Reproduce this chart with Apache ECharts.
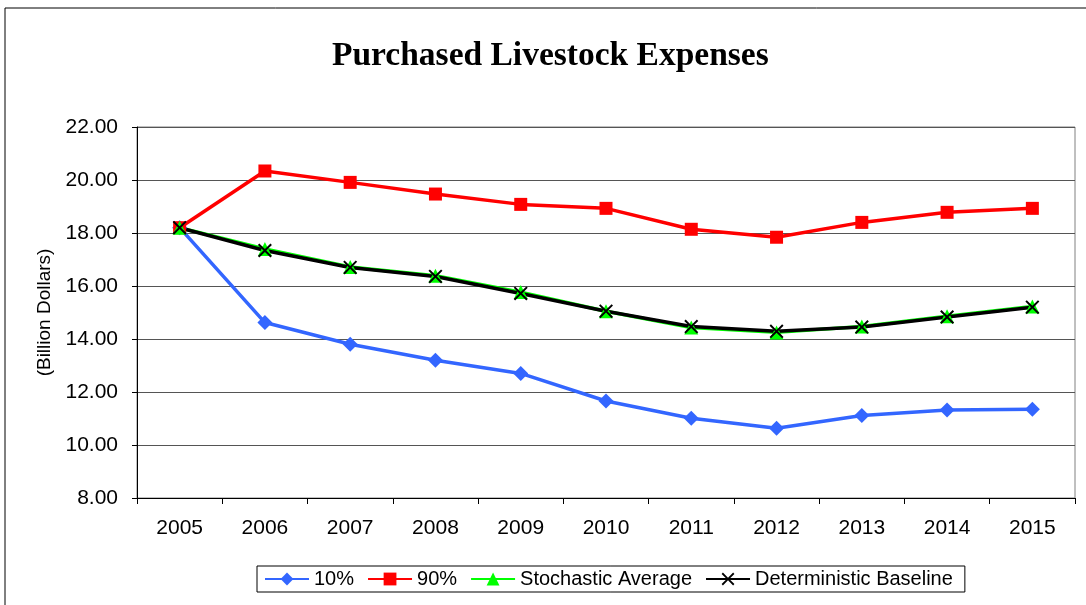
<!DOCTYPE html>
<html>
<head>
<meta charset="utf-8">
<script src="https://cdn.jsdelivr.net/npm/echarts@6/dist/echarts.min.js"></script>
<style>
  html, body { margin: 0; padding: 0; background: #fff; }
  #chart { width: 1086px; height: 605px; }
</style>
</head>
<body>
<div id="chart"></div>
<script>
// years on the x axis
const years = ['2005', '2006', '2007', '2008', '2009', '2010', '2011', '2012', '2013', '2014', '2015'];

// values (billion dollars)
const p10 = [18.20, 14.62, 13.80, 13.20, 12.70, 11.66, 11.01, 10.63, 11.11, 11.32, 11.35];
const p90 = [18.20, 20.34, 19.91, 19.47, 19.08, 18.93, 18.14, 17.84, 18.40, 18.78, 18.93];
const stochAvg = [18.20, 17.40, 16.72, 16.39, 15.77, 15.05, 14.43, 14.25, 14.47, 14.86, 15.23];
const detBase = [18.20, 17.34, 16.70, 16.36, 15.72, 15.05, 14.47, 14.29, 14.45, 14.83, 15.20];

const xMark = 'path://M0,1L1,0L5,4L9,0L10,1L6,5L10,9L9,10L5,6L1,10L0,9L4,5Z';

const chart = echarts.init(document.getElementById('chart'));

chart.setOption({
  animation: false,
  backgroundColor: '#fff',
  textStyle: { fontFamily: 'Liberation Sans, Arial, sans-serif' },
  title: {
    text: 'Purchased Livestock Expenses',
    left: 327,
    top: 34,
    textStyle: {
      fontFamily: 'Liberation Serif, Times New Roman, serif',
      fontWeight: 'bold',
      fontSize: 33.5,
      color: '#000'
    }
  },
  graphic: [{
    type: 'rect',
    shape: { x: 5, y: 8, width: 1200, height: 700 },
    style: { fill: 'none', stroke: '#000', lineWidth: 1 },
    silent: true
  }],
  legend: {
    left: 257,
    top: 566,
    padding: [3, 12, 3, 7],
    itemGap: 13,
    itemWidth: 44,
    itemHeight: 16,
    borderColor: '#000',
    borderWidth: 1,
    textStyle: { fontSize: 20, color: '#000' },
    data: ['10%', '90%', 'Stochastic Average', 'Deterministic Baseline']
  },
  grid: {
    left: 137,
    right: 11,
    top: 127,
    bottom: 107,
    show: true,
    borderColor: '#808080',
    borderWidth: 1
  },
  xAxis: {
    type: 'category',
    data: years,
    boundaryGap: true,
    axisLine: { lineStyle: { color: '#000', width: 1 } },
    axisTick: { show: true, length: 6, lineStyle: { color: '#000' } },
    axisLabel: { fontSize: 21, color: '#000', margin: 20 },
    splitLine: { show: false }
  },
  yAxis: {
    type: 'value',
    min: 8,
    max: 22,
    interval: 2,
    name: '(Billion Dollars)',
    nameLocation: 'middle',
    nameGap: 82,
    nameTextStyle: { fontSize: 19, color: '#000' },
    axisLine: { show: true, lineStyle: { color: '#000', width: 1 } },
    axisTick: { show: true, length: 5, lineStyle: { color: '#000' } },
    axisLabel: {
      fontSize: 21,
      color: '#000',
      margin: 19,
      formatter: v => v.toFixed(2)
    },
    splitLine: { show: true, lineStyle: { color: '#555', width: 1 } }
  },
  series: [
    {
      name: '10%',
      type: 'line',
      data: p10,
      symbol: 'diamond',
      symbolSize: 15,
      lineStyle: { color: '#3366FF', width: 3.5 },
      itemStyle: { color: '#3366FF' }
    },
    {
      name: '90%',
      type: 'line',
      data: p90,
      symbol: 'rect',
      symbolSize: 13,
      lineStyle: { color: '#FF0000', width: 3.5 },
      itemStyle: { color: '#FF0000' }
    },
    {
      name: 'Stochastic Average',
      type: 'line',
      data: stochAvg,
      symbol: 'triangle',
      symbolSize: 14,
      lineStyle: { color: '#00FF00', width: 3.5 },
      itemStyle: { color: '#00FF00' }
    },
    {
      name: 'Deterministic Baseline',
      type: 'line',
      data: detBase,
      symbol: xMark,
      symbolSize: 14,
      lineStyle: { color: '#000', width: 3.5 },
      itemStyle: { color: '#000' }
    }
  ]
});
</script>
</body>
</html>
